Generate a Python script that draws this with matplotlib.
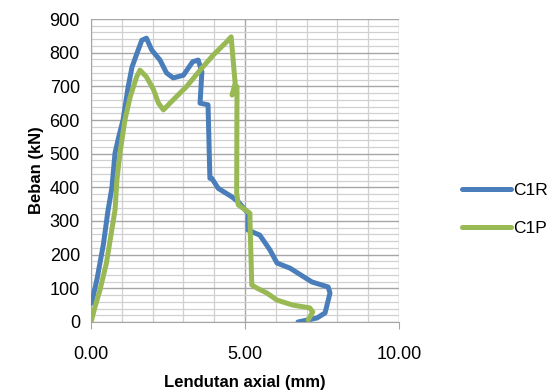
import matplotlib
matplotlib.use("Agg")
import matplotlib.pyplot as plt
from matplotlib.ticker import MultipleLocator, FixedLocator

c1r_x = [0.02, 0.2, 0.4, 0.55, 0.68, 0.78, 0.9, 1.04, 1.2, 1.33, 1.5, 1.65, 1.8, 1.97, 2.24, 2.45, 2.67, 3.0, 3.3, 3.48, 3.6,
         3.54, 3.8, 3.86, 3.92, 4.13, 4.57, 4.78, 5.1, 5.1, 5.48, 5.81, 6.04, 6.46, 7.17, 7.7, 7.76, 7.6, 7.34, 6.72]
c1r_y = [56, 130, 230, 330, 400, 502, 550, 600, 695, 757, 800, 837, 843, 808, 778, 740, 725, 733, 773, 778, 743,
         650, 645, 427, 427, 397, 372, 357, 323, 273, 258, 214, 175, 160, 119, 104, 86, 27, 12, 0]

c1p_x = [0.0, 0.13, 0.29, 0.5, 0.62, 0.78, 0.84, 0.94, 1.1, 1.27, 1.48, 1.59, 1.8, 2.03, 2.19, 2.35, 2.67, 3.1, 3.54, 3.97, 4.4, 4.55,
         4.68, 4.58, 4.74, 4.73, 4.78, 5.16, 5.16, 5.22, 5.38, 5.71, 6.04, 6.56, 7.1, 7.2, 7.05]
c1p_y = [0, 45, 95, 175, 243, 333, 422, 502, 600, 668, 728, 748, 728, 690, 650, 630, 660, 699, 748, 793, 832, 847,
         709, 674, 699, 383, 348, 323, 303, 110, 101, 86, 65, 50, 42, 30, 6]

series_names = ["C1R", "C1P"]
x_ticks = [0, 5, 10]
x_tick_labels = ["0.00", "5.00", "10.00"]

plt.rcParams['font.family'] = ['Liberation Sans', 'DejaVu Sans']

fig = plt.figure(figsize=(5.53, 3.92), dpi=100)
ax = fig.add_axes([0.1646, 0.1786, 0.7215 - 0.1646, 0.9515 - 0.1786])

ax.plot(c1r_x, c1r_y, color='#4A7EBB', lw=3.6, solid_capstyle='round', solid_joinstyle='round', label=series_names[0], zorder=3)
ax.plot(c1p_x, c1p_y, color='#98B954', lw=3.6, solid_capstyle='round', solid_joinstyle='round', label=series_names[1], zorder=4)

ax.set_xlim(0, 10)
ax.set_ylim(0, 900)
ax.xaxis.set_major_locator(FixedLocator(x_ticks))
ax.set_xticklabels(x_tick_labels)
ax.xaxis.set_minor_locator(MultipleLocator(1))
ax.yaxis.set_major_locator(MultipleLocator(100))
ax.yaxis.set_minor_locator(MultipleLocator(20))

ax.grid(which='major', color='#A6A6A6', lw=1.0, zorder=0)
ax.grid(which='minor', color='#D0D0D0', lw=0.9, zorder=0)
ax.set_axisbelow(True)

for s in ['top', 'right']:
    ax.spines[s].set_visible(False)
ax.spines['left'].set_color('#A6A6A6')
ax.spines['bottom'].set_color('#A6A6A6')

ax.tick_params(axis='x', which='major', length=5, color='#A6A6A6', labelsize=13, pad=12)
ax.tick_params(axis='y', which='major', length=0, labelsize=13, pad=8)
ax.tick_params(which='minor', length=0)

ax.set_xlabel("Lendutan axial (mm)", fontsize=12, fontweight='bold', labelpad=9)
ax.set_ylabel("Beban (kN)", fontsize=12, fontweight='bold', labelpad=4)

leg = fig.legend(loc='center left', bbox_to_anchor=(0.807, 0.465), frameon=False, fontsize=12.5,
                 handlelength=2.8, labelspacing=1.3, handletextpad=0.15)

fig.savefig("out.png", dpi=100)
